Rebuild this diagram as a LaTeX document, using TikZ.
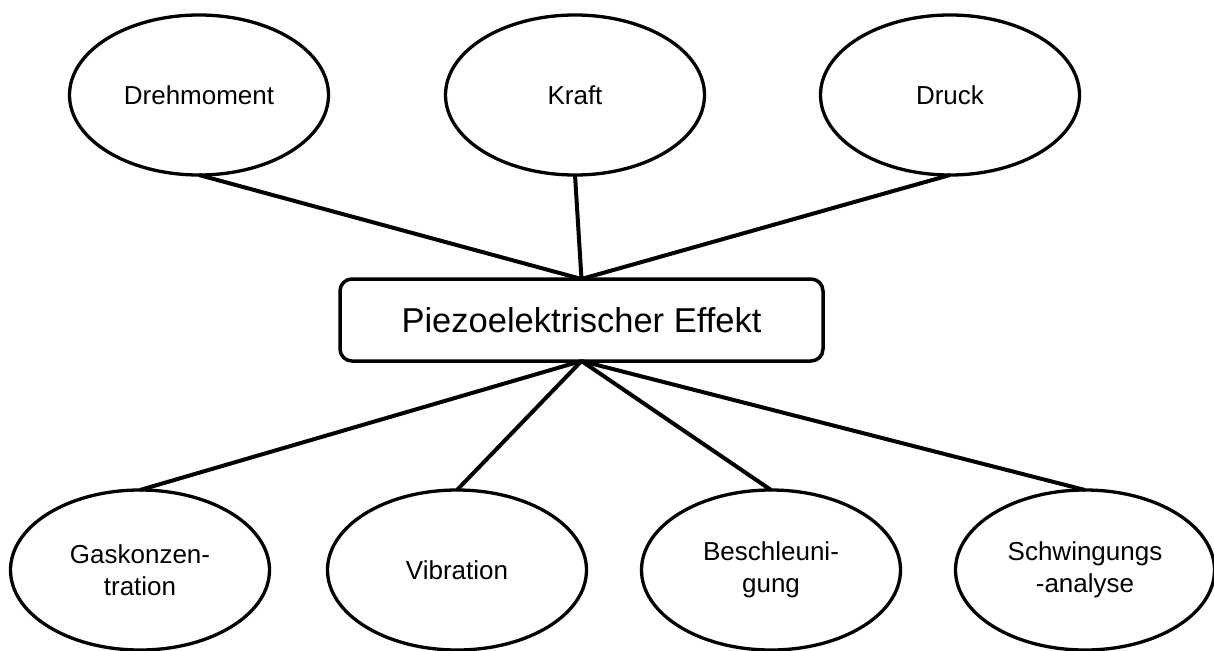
\documentclass[tikz,border=0pt]{standalone}
\usepackage{fontspec}
\setmainfont{Liberation Sans}
\usetikzlibrary{shapes.geometric}
\begin{document}
\begin{tikzpicture}[x=1pt,y=-1pt,
  topic/.style={ellipse,draw,line width=3.3pt,minimum width=259pt,minimum height=160pt,
    inner sep=0pt,outer sep=0pt,align=center,font=\fontsize{26}{32}\selectfont},
  hub/.style={draw,line width=3.5pt,rounded corners=12pt,minimum width=483pt,minimum height=82pt,
    inner sep=0pt,outer sep=0pt,font=\fontsize{34.5}{40}\selectfont},
  link/.style={line width=4pt}]
\useasboundingbox (0,0) rectangle (1214,650);
% central effect
\node[hub] (pe) at (581.5,320) {Piezoelektrischer Effekt};
% measured quantities
\node[topic] (dreh) at (199,95) {Drehmoment};
\node[topic] (kraft) at (575,95) {Kraft};
\node[topic] (druck) at (950,95) {Druck};
% applications
\node[topic] (gas) at (140,570) {Gaskonzen-\\tration};
\node[topic] (vib) at (457,570) {Vibration};
\node[topic] (besch) at (771,570) {Beschleuni-\\gung};
\node[topic] (schw) at (1085,570) {Schwingungs\\-analyse};
% connectors
\draw[link] (dreh.south) -- (pe.north);
\draw[link] (kraft.south) -- (pe.north);
\draw[link] (druck.south) -- (pe.north);
\draw[link] (pe.south) -- (gas.north);
\draw[link] (pe.south) -- (vib.north);
\draw[link] (pe.south) -- (besch.north);
\draw[link] (pe.south) -- (schw.north);
\end{tikzpicture}
\end{document}
